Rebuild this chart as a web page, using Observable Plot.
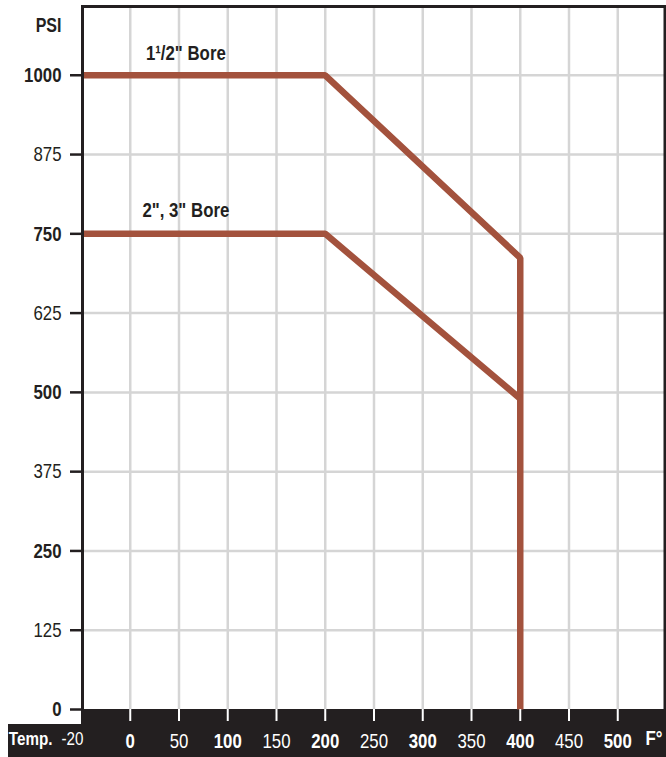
<!DOCTYPE html>
<html>
<head>
<meta charset="utf-8">
<script src="https://cdn.jsdelivr.net/npm/d3@7"></script>
<script src="https://cdn.jsdelivr.net/npm/@observablehq/plot@0.6"></script>
<style>
  html, body { margin: 0; padding: 0; background: white; }
  #chart svg { display: block; }
</style>
</head>
<body>
<div id="chart"></div>
<script>
// ---- data ----
const temps15 = [-50, 200, 400, 400];
const psi15 = [1000, 1000, 712, 0];
const temps23 = [-50, 200, 400];
const psi23 = [750, 750, 490];

const xGrid = [0, 50, 100, 150, 200, 250, 300, 350, 400, 450, 500];
const yGrid = [125, 250, 375, 500, 625, 750, 875, 1000];

const xTicksBold = [0, 100, 200, 300, 400, 500];
const xTicksLight = [50, 150, 250, 350, 450];
const yTicksBold = [0, 250, 500, 750, 1000];
const yTicksLight = [125, 375, 625, 875];

const seriesLabels = [
  {text: "1\u00B9/2\" Bore", t: 57, psi: 1024},
  {text: "2\", 3\" Bore", t: 57, psi: 777}
];

// ---- build ----
const bore15 = temps15.map((t, i) => ({t, psi: psi15[i]}));
const bore23 = temps23.map((t, i) => ({t, psi: psi23[i]}));

const INK = "#231f20";
const LINE = "#a3523d";
const FONT = "'Liberation Sans', Arial, sans-serif";
const fmt = d => String(d);

function band(index, scales, values, dims) {
  const g = d3.create("svg:g");
  const y0 = scales.y(0);
  const xl = scales.x(-50);
  g.append("rect").attr("x", xl).attr("y", y0)
    .attr("width", dims.width - xl).attr("height", dims.height - y0).attr("fill", INK);
  g.append("rect").attr("x", 8).attr("y", y0 + 15)
    .attr("width", xl - 8 + 1).attr("height", dims.height - y0 - 15).attr("fill", INK);
  return g.node();
}

const plot = Plot.plot({
  width: 666,
  height: 757,
  marginLeft: 81,
  marginRight: 0,
  marginTop: 5,
  marginBottom: 48,
  style: {fontFamily: FONT, background: "white", color: INK},
  x: {domain: [-50, 550]},
  y: {domain: [0, 1110]},
  marks: [
    Plot.ruleX(xGrid, {stroke: "#d5d5d5", strokeWidth: 2.5}),
    Plot.ruleY(yGrid, {stroke: "#d5d5d5", strokeWidth: 2.5}),
    band,
    Plot.ruleY([1110], {stroke: INK, strokeWidth: 3, dy: 1}),
    Plot.ruleX([550], {stroke: INK, strokeWidth: 3, dx: -1.5, y1: 0, y2: 1110}),
    Plot.line(bore15, {x: "t", y: "psi", stroke: LINE, strokeWidth: 6.5, strokeLinejoin: "miter", strokeLinecap: "butt"}),
    Plot.line(bore23, {x: "t", y: "psi", stroke: LINE, strokeWidth: 6.5, strokeLinejoin: "miter", strokeLinecap: "butt"}),
    Plot.ruleX([-50], {stroke: INK, strokeWidth: 3, dx: 1, y1: 0, y2: 1110}),
    Plot.axisY(yTicksBold, {tickSize: 11, tickPadding: 9, fontSize: 21, fontWeight: "bold", stroke: INK, strokeWidth: 2.5, fill: INK, label: null, tickFormat: fmt}),
    Plot.axisY(yTicksLight, {tickSize: 11, tickPadding: 9, fontSize: 21, fontWeight: "normal", stroke: INK, strokeWidth: 2.5, fill: INK, label: null, tickFormat: fmt}),
    Plot.axisX(xTicksBold, {tickSize: 12, tickPadding: 12, insetTop: 3, fontSize: 21, fontWeight: "bold", stroke: "white", strokeWidth: 2, fill: "white", label: null, tickFormat: fmt}),
    Plot.axisX(xTicksLight, {tickSize: 12, tickPadding: 12, insetTop: 3, fontSize: 21, fontWeight: "normal", stroke: "white", strokeWidth: 2, fill: "white", label: null, tickFormat: fmt}),
    Plot.text(["Temp."], {x: -50, frameAnchor: "bottom", dy: 35, dx: -29, textAnchor: "end", fill: "white", fontSize: 19, fontWeight: "bold"}),
    Plot.text(["-20"], {x: -50, frameAnchor: "bottom", dy: 35, dx: 2, textAnchor: "end", fill: "white", fontSize: 19, fontWeight: "normal"}),
    Plot.text(["F\u00B0"], {x: 550, frameAnchor: "bottom", dy: 35, dx: -4, textAnchor: "end", fill: "white", fontSize: 21, fontWeight: "bold"}),
    Plot.text(["PSI"], {x: -50, frameAnchor: "top", dy: 12, dx: -20, textAnchor: "end", fill: INK, fontSize: 20, fontWeight: "bold"}),
    Plot.text(seriesLabels, {x: "t", y: "psi", text: "text", fill: INK, fontSize: 21, fontWeight: "bold", lineAnchor: "bottom"})
  ]
});

document.getElementById("chart").appendChild(plot);

// condense all text horizontally (narrow, Futura-Condensed-like look)
d3.select(plot).selectAll("text").each(function () {
  const w = this.getComputedTextLength();
  if (w > 0) {
    this.setAttribute("textLength", (w * 0.8).toFixed(2));
    this.setAttribute("lengthAdjust", "spacingAndGlyphs");
  }
});
</script>
</body>
</html>
